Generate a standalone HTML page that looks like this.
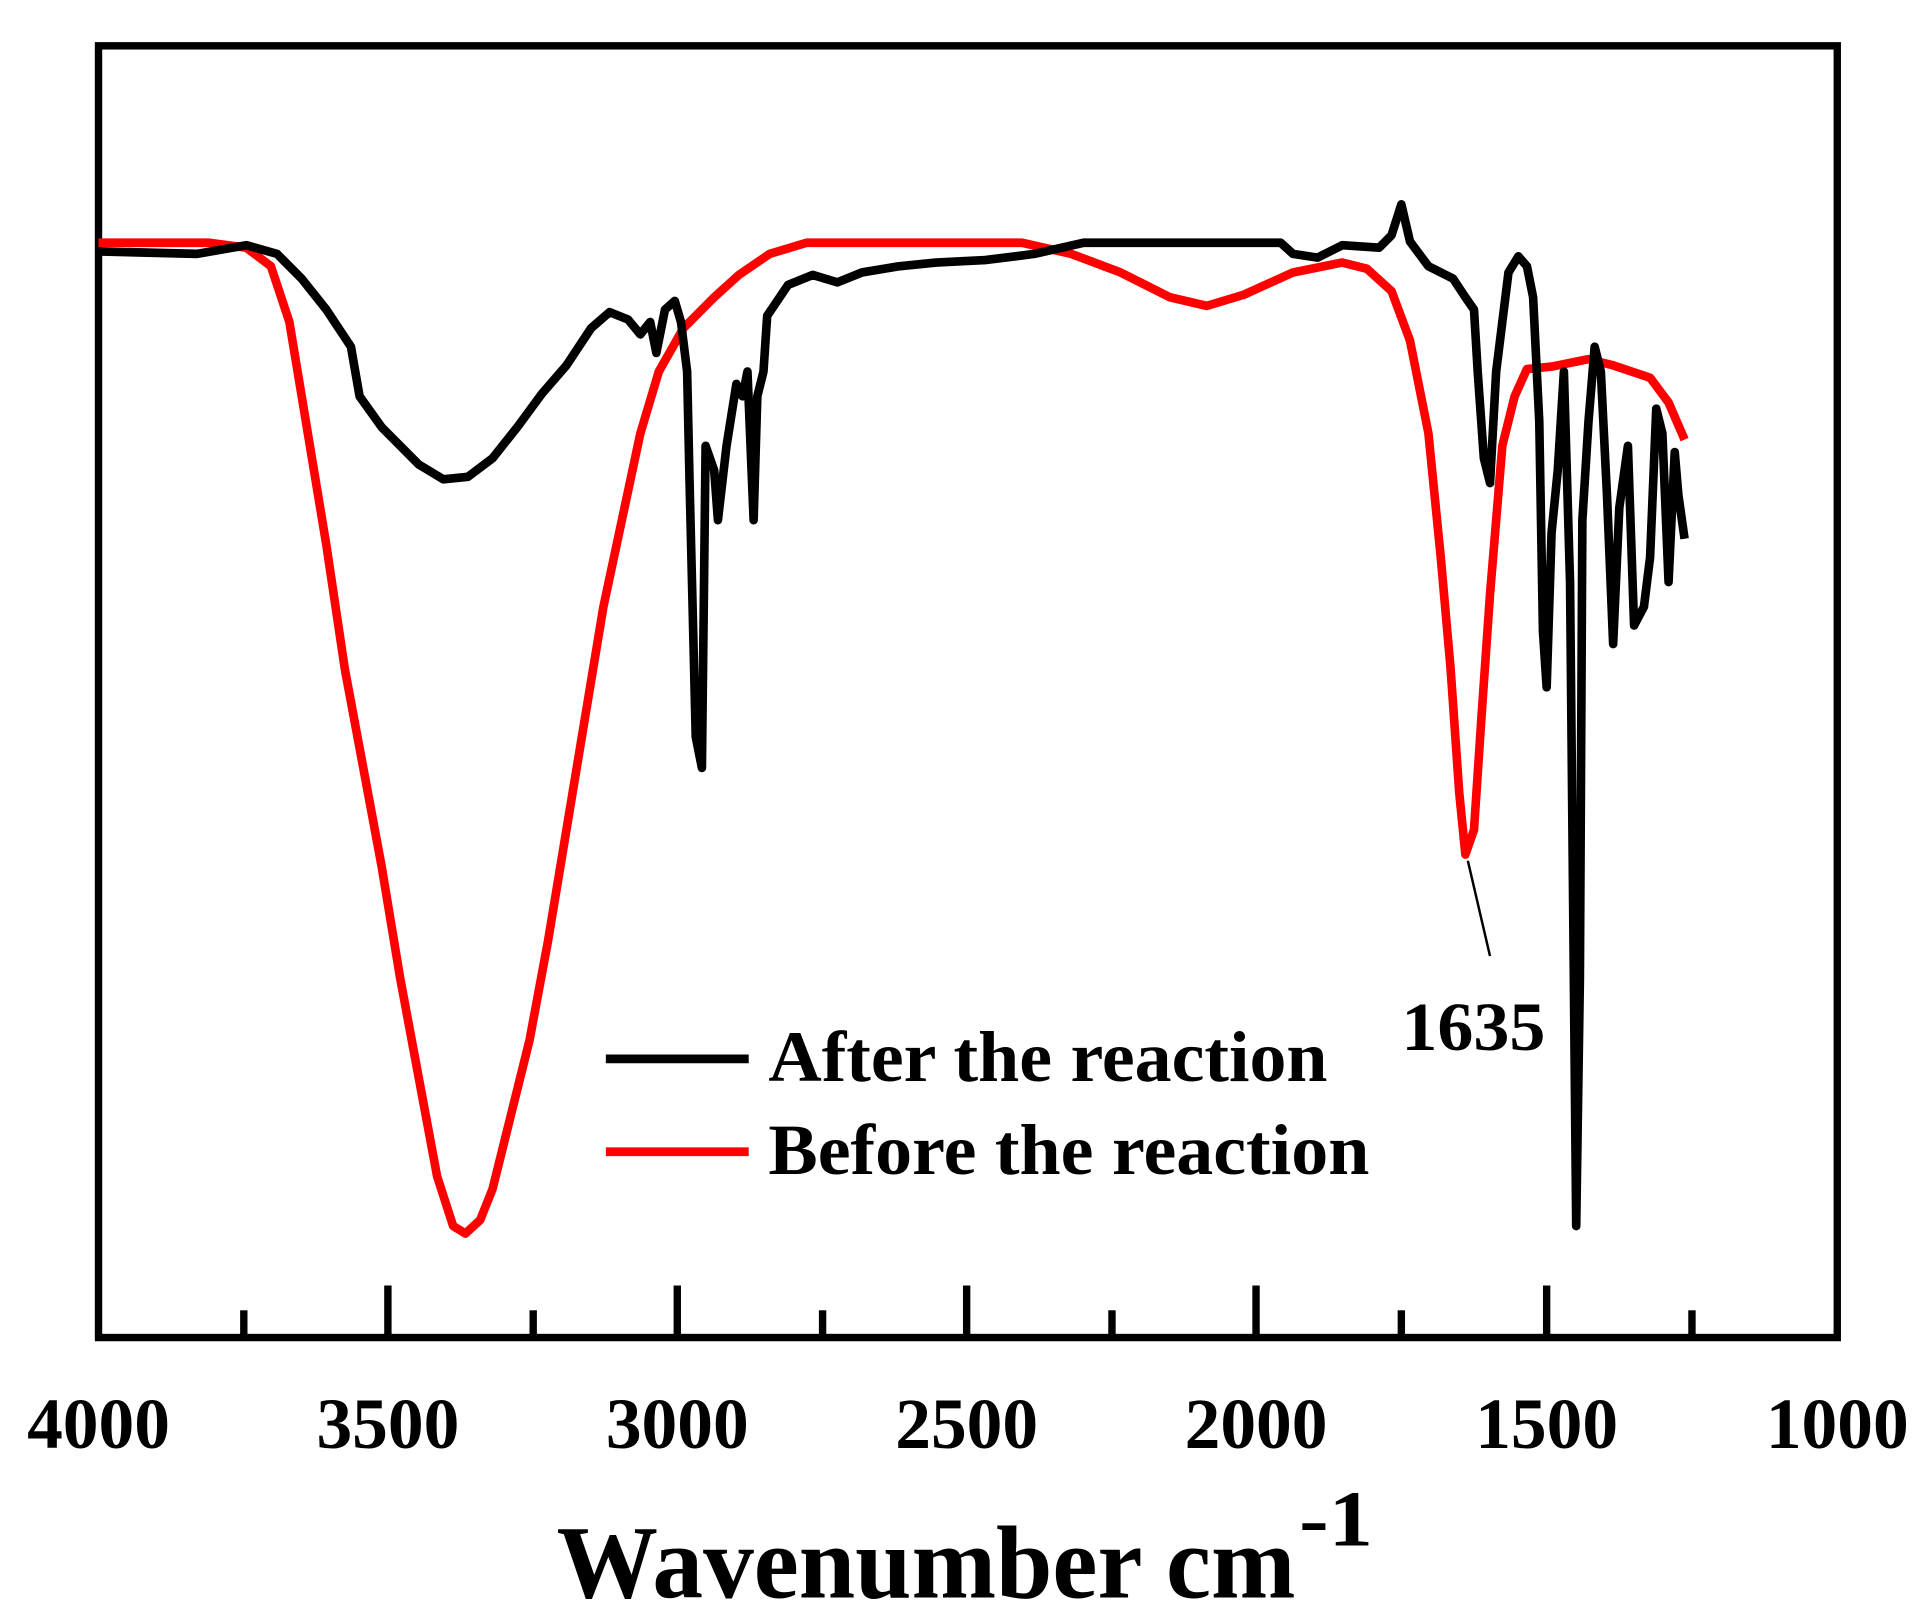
<!DOCTYPE html>
<html><head><meta charset="utf-8"><style>
html,body{margin:0;padding:0;background:#fff;}
svg{display:block;}
text{font-family:"Liberation Serif",serif;font-weight:bold;fill:#000;}
</style></head><body>
<svg width="1921" height="1610" viewBox="0 0 1560 1300" preserveAspectRatio="none" xmlns="http://www.w3.org/2000/svg">
<rect x="0" y="0" width="1560" height="1300" fill="#fff"/>
<rect x="80" y="37" width="1412" height="1043" fill="none" stroke="#000" stroke-width="6"/>
<g stroke="#000" stroke-width="6">
<line x1="315" y1="1080" x2="315" y2="1038"/><line x1="550" y1="1080" x2="550" y2="1038"/>
<line x1="785" y1="1080" x2="785" y2="1038"/><line x1="1020" y1="1080" x2="1020" y2="1038"/>
<line x1="1256" y1="1080" x2="1256" y2="1038"/>
<line x1="198" y1="1080" x2="198" y2="1058"/><line x1="433" y1="1080" x2="433" y2="1058"/>
<line x1="668" y1="1080" x2="668" y2="1058"/><line x1="903" y1="1080" x2="903" y2="1058"/>
<line x1="1138" y1="1080" x2="1138" y2="1058"/><line x1="1374" y1="1080" x2="1374" y2="1058"/>
</g>
<g font-size="58" lengthAdjust="spacingAndGlyphs">
<text x="22" y="1169" textLength="116" lengthAdjust="spacingAndGlyphs">4000</text>
<text x="257" y="1169" textLength="116" lengthAdjust="spacingAndGlyphs">3500</text>
<text x="492" y="1169" textLength="116" lengthAdjust="spacingAndGlyphs">3000</text>
<text x="727" y="1169" textLength="116" lengthAdjust="spacingAndGlyphs">2500</text>
<text x="962" y="1169" textLength="116" lengthAdjust="spacingAndGlyphs">2000</text>
<text x="1198" y="1169" textLength="116" lengthAdjust="spacingAndGlyphs">1500</text>
<text x="1434" y="1169" textLength="116" lengthAdjust="spacingAndGlyphs">1000</text>
</g>
<text x="452" y="1290" font-size="84" textLength="600" lengthAdjust="spacingAndGlyphs">Wavenumber cm</text>
<text x="1055" y="1248" font-size="64" textLength="60" lengthAdjust="spacingAndGlyphs">-1</text>
<polyline fill="none" stroke="#ff0000" stroke-width="7" stroke-linejoin="round" points="80,196 170,196 200,200 220,215 235,260 245,320 255,380 265,440 280,540 295,620 310,700 325,790 340,870 355,950 368,990 378,996 390,985 400,960 415,900 430,840 445,760 460,670 475,580 490,490 505,420 520,350 535,300 555,265 580,240 600,222 625,205 655,196 830,196 870,205 910,220 950,240 980,247 1010,238 1050,220 1090,212 1110,217 1130,235 1145,275 1160,350 1170,450 1178,540 1185,640 1190,690 1197,670 1203,580 1210,480 1215,420 1220,360 1230,320 1240,298 1260,296 1290,290 1310,295 1340,305 1355,325 1368,355"/>
<polyline fill="none" stroke="#000" stroke-width="7" stroke-linejoin="round" points="80,203 160,205 200,198 225,205 245,225 265,250 285,280 292,320 310,345 340,375 360,387 380,385 400,370 420,345 440,318 460,295 480,265 495,252 510,258 520,270 528,260 533,285 540,250 548,243 553,260 558,300 560,390 565,595 570,620 573,360 580,380 583,420 590,360 598,310 603,320 607,300 612,420 615,320 620,300 623,255 640,230 660,222 680,228 700,220 730,215 760,212 800,210 840,205 880,196 1040,196 1050,205 1070,208 1090,198 1120,200 1130,190 1138,165 1145,195 1160,215 1180,225 1190,240 1197,250 1200,300 1205,370 1210,390 1215,300 1220,260 1225,220 1233,207 1240,215 1245,240 1250,340 1253,510 1256,555 1260,430 1265,380 1270,300 1275,470 1280,990 1283,790 1285,420 1290,340 1295,280 1300,300 1305,400 1310,520 1315,410 1322,360 1327,505 1335,490 1340,450 1345,330 1350,350 1355,470 1360,365 1363,400 1368,435"/>
<line x1="1192" y1="695" x2="1210" y2="772" stroke="#000" stroke-width="2"/>
<text x="1138" y="848" font-size="56" textLength="117" lengthAdjust="spacingAndGlyphs">1635</text>
<line x1="492" y1="855" x2="608" y2="855" stroke="#000" stroke-width="7"/>
<text x="624" y="873" font-size="58" textLength="454" lengthAdjust="spacingAndGlyphs">After the reaction</text>
<line x1="492" y1="930" x2="608" y2="930" stroke="#ff0000" stroke-width="7"/>
<text x="624" y="948" font-size="58" textLength="488" lengthAdjust="spacingAndGlyphs">Before the reaction</text>
</svg>
</body></html>
